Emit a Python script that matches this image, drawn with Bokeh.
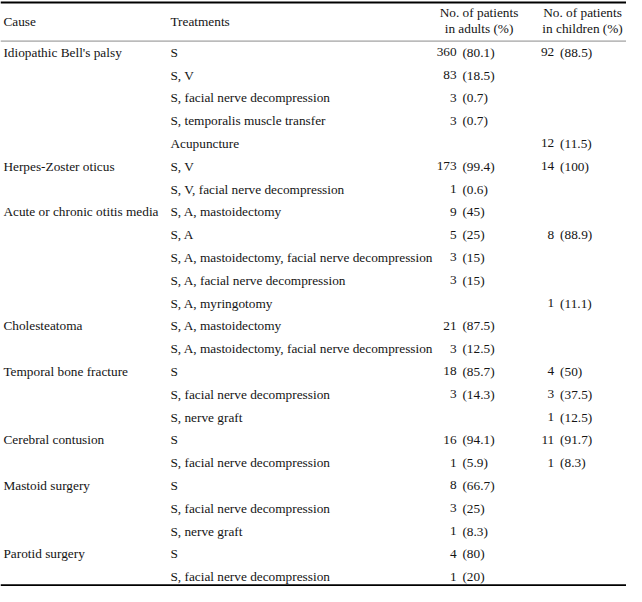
from bokeh.plotting import figure
from bokeh.models import ColumnDataSource, Range1d, Span
from bokeh.core.properties import value
from bokeh.embed import file_html
from bokeh.resources import INLINE

# ---------------- data ----------------
causes = ["Idiopathic Bell's palsy", "", "", "", "",
          "Herpes-Zoster oticus", "",
          "Acute or chronic otitis media", "", "", "", "",
          "Cholesteatoma", "",
          "Temporal bone fracture", "", "",
          "Cerebral contusion", "",
          "Mastoid surgery", "", "",
          "Parotid surgery", ""]
treatments = ["S", "S, V", "S, facial nerve decompression", "S, temporalis muscle transfer", "Acupuncture",
              "S, V", "S, V, facial nerve decompression",
              "S, A, mastoidectomy", "S, A", "S, A, mastoidectomy, facial nerve decompression",
              "S, A, facial nerve decompression", "S, A, myringotomy",
              "S, A, mastoidectomy", "S, A, mastoidectomy, facial nerve decompression",
              "S", "S, facial nerve decompression", "S, nerve graft",
              "S", "S, facial nerve decompression",
              "S", "S, facial nerve decompression", "S, nerve graft",
              "S", "S, facial nerve decompression"]
adult_n = ["360", "83", "3", "3", "", "173", "1", "9", "5", "3", "3", "", "21", "3",
           "18", "3", "", "16", "1", "8", "3", "1", "4", "1"]
adult_pct = ["80.1", "18.5", "0.7", "0.7", "", "99.4", "0.6", "45", "25", "15", "15", "", "87.5", "12.5",
             "85.7", "14.3", "", "94.1", "5.9", "66.7", "25", "8.3", "80", "20"]
child_n = ["92", "", "", "", "12", "14", "", "", "8", "", "", "1", "", "",
           "4", "3", "1", "11", "1", "", "", "", "", ""]
child_pct = ["88.5", "", "", "", "11.5", "100", "", "", "88.9", "", "", "11.1", "", "",
             "50", "37.5", "12.5", "91.7", "8.3", "", "", "", "", ""]
header_cause = "Cause"
header_treat = "Treatments"
header_adult = ["No. of patients", "in adults (%)"]
header_child = ["No. of patients", "in children (%)"]

# ---------------- layout ----------------
FONT = value("Liberation Serif")
FS = "13.3px"
COLOR = "#141414"
X_CAUSE, X_TREAT = 4, 175
X_AD_N, X_AD_P = 468, 474
X_CH_N, X_CH_P = 568, 574
X_AD_H, X_CH_H = 491, 597

p = figure(width=626, height=586, output_backend="svg", toolbar_location=None,
           x_range=Range1d(1, 642), y_range=Range1d(23.43, -2.27),
           min_border=0, outline_line_color=None,
           background_fill_color="white", border_fill_color="white")
p.axis.visible = False
p.grid.visible = False

rows = list(range(len(treatments)))

def txt(xs, ys, texts, align):
    src = ColumnDataSource(dict(x=xs, y=ys, t=texts))
    p.text(x="x", y="y", text="t", source=src, text_font=FONT, text_font_size=FS,
           text_color=COLOR, text_align=align, text_baseline="middle")

# body
ci = [i for i in rows if causes[i]]
txt([X_CAUSE] * len(ci), ci, [causes[i] for i in ci], "left")
txt([X_TREAT] * len(rows), rows, treatments, "left")
ai = [i for i in rows if adult_n[i]]
txt([X_AD_N] * len(ai), ai, [adult_n[i] for i in ai], "right")
txt([X_AD_P] * len(ai), ai, ["(" + adult_pct[i] + ")" for i in ai], "left")
ki = [i for i in rows if child_n[i]]
txt([X_CH_N] * len(ki), ki, [child_n[i] for i in ki], "right")
txt([X_CH_P] * len(ki), ki, ["(" + child_pct[i] + ")" for i in ki], "left")

# header
txt([X_CAUSE, X_TREAT], [-1.37, -1.37], [header_cause, header_treat], "left")
txt([X_AD_H, X_AD_H], [-1.74, -1.05], header_adult, "center")
txt([X_CH_H, X_CH_H], [-1.74, -1.05], header_child, "center")

# rules
p.add_layout(Span(location=-2.18, dimension="width", line_color="#000000", line_width=2))
p.add_layout(Span(location=-0.49, dimension="width", line_color="#8a8a8a", line_width=1))
p.add_layout(Span(location=23.37, dimension="width", line_color="#000000", line_width=2))

open("out.html", "w").write(file_html(p, INLINE))
